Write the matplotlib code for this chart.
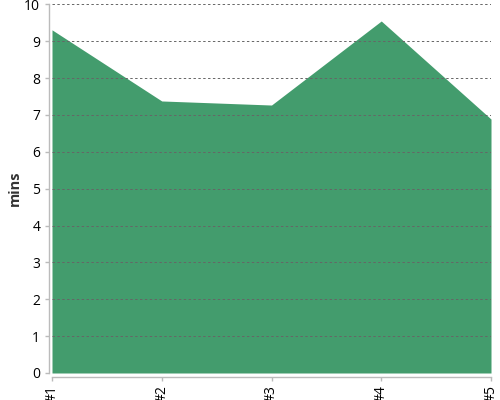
import matplotlib

matplotlib.use("Agg")

from matplotlib import pyplot as plt

CATEGORIES = ["#1", "#2", "#3", "#4", "#5"]
MINS = [9.31, 7.38, 7.27, 9.55, 6.89]
Y_TICKS = list(range(0, 11))

FILL_COLOR = "#439c6d"
TEXT_COLOR = "#555555"


def main() -> None:
    plt.rcParams["font.family"] = ["Open Sans", "DejaVu Sans"]

    figure = plt.figure(figsize=(5, 4), dpi=100)
    axis = figure.add_axes([0.104, 0.0675, 0.878, 0.9215])

    positions = list(range(len(CATEGORIES)))
    axis.fill_between(positions, 0, MINS, color=FILL_COLOR, linewidth=0, zorder=1)

    axis.set_xlim(0, len(CATEGORIES) - 1)
    axis.set_ylim(0, 10)
    axis.set_xticks(positions)
    axis.set_xticklabels(CATEGORIES, fontsize=8, color="#333333")
    axis.set_yticks(Y_TICKS)
    axis.set_yticklabels([str(v) for v in Y_TICKS], fontsize=9, color=TEXT_COLOR)

    axis.grid(axis="y", color="#666666", linestyle=(0, (2.5, 2.5)), linewidth=0.7, zorder=2)
    axis.set_axisbelow(False)

    for side in ("top", "right"):
        axis.spines[side].set_visible(False)
    axis.spines["left"].set_position(("outward", 2.5))
    axis.spines["bottom"].set_position(("outward", 3))
    for side in ("left", "bottom"):
        axis.spines[side].set_color("#bbbbbb")
        axis.spines[side].set_linewidth(1.0)
    axis.tick_params(axis="both", length=3, width=1.0, color="#bbbbbb", pad=3)
    axis.tick_params(axis="x", labelrotation=90)

    axis.set_ylabel("mins", fontsize=10.5, fontweight="bold", color="#333333")
    axis.yaxis.set_label_coords(-0.068, 0.5)

    figure.savefig("out.png", dpi=100)
    plt.close(figure)


if __name__ == "__main__":
    main()
